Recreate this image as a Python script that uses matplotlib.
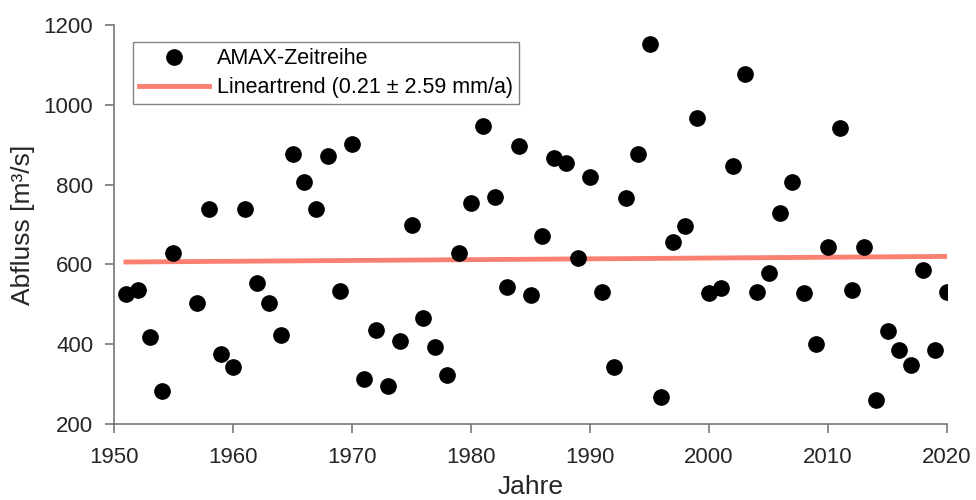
import matplotlib
matplotlib.use("Agg")
import matplotlib.pyplot as plt

plt.rcParams['font.family'] = ['Liberation Sans', 'DejaVu Sans']

years = [1951, 1952, 1953, 1954, 1955, 1957, 1958, 1959, 1960, 1961, 1962, 1963,
         1964, 1965, 1966, 1967, 1968, 1969, 1970, 1971, 1972, 1973, 1974, 1975,
         1976, 1977, 1978, 1979, 1980, 1981, 1982, 1983, 1984, 1985, 1986, 1987,
         1988, 1989, 1990, 1991, 1992, 1993, 1994, 1995, 1996, 1997, 1998, 1999,
         2000, 2001, 2002, 2003, 2004, 2005, 2006, 2007, 2008, 2009, 2010, 2011,
         2012, 2013, 2014, 2015, 2016, 2017, 2018, 2019, 2020]
amax = [526, 536, 419, 282, 628, 503, 740, 375, 342, 738, 554, 503,
        423, 876, 807, 740, 872, 534, 901, 313, 436, 294, 407, 699,
        465, 394, 322, 628, 753, 947, 770, 543, 896, 523, 671, 867,
        855, 615, 818, 531, 344, 766, 876, 1153, 267, 657, 695, 968,
        528, 540, 846, 1076, 532, 578, 730, 807, 528, 401, 644, 941,
        536, 644, 261, 432, 386, 347, 586, 386, 532]

trend_years = [1951, 2020]
trend_values = [606, 620]

xticks = [1950, 1960, 1970, 1980, 1990, 2000, 2010, 2020]
yticks = [200, 400, 600, 800, 1000, 1200]

fig = plt.figure(figsize=(9.76, 5.0), dpi=100)
ax = fig.add_axes([0.1168, 0.152, 0.9703 - 0.1168, 0.95 - 0.152])

ax.plot(years, amax, 'o', color='black', markersize=11, label='AMAX-Zeitreihe', zorder=3)
ax.plot(trend_years, trend_values, '-', color='#FA8072', linewidth=3.5,
        label='Lineartrend (0.21 ± 2.59 mm/a)', zorder=2)

ax.set_xlim(1950, 2020)
ax.set_ylim(200, 1200)
ax.set_xticks(xticks)
ax.set_yticks(yticks)

for side in ['top', 'right']:
    ax.spines[side].set_visible(False)
for side in ['left', 'bottom']:
    ax.spines[side].set_color('#777777')
    ax.spines[side].set_linewidth(1.2)
ax.tick_params(direction='out', length=6.5, width=1.2, color='#777777',
               labelsize=16, labelcolor='#262626')
ax.tick_params(axis='x', pad=10)
ax.tick_params(axis='y', pad=8.5)

ax.set_xlabel('Jahre', fontsize=19, color='#262626', labelpad=5)
ax.set_ylabel('Abfluss [m³/s]', fontsize=19, color='#262626', labelpad=6)

leg = ax.legend(loc='upper left', bbox_to_anchor=(0.0228, 0.957), borderaxespad=0,
                fontsize=15.5, frameon=True, fancybox=False, edgecolor='#666666',
                handlelength=3.25, borderpad=0.28, labelspacing=0.38,
                handletextpad=0.35)
leg.get_frame().set_linewidth(1.0)

fig.savefig('out.png', dpi=100)
